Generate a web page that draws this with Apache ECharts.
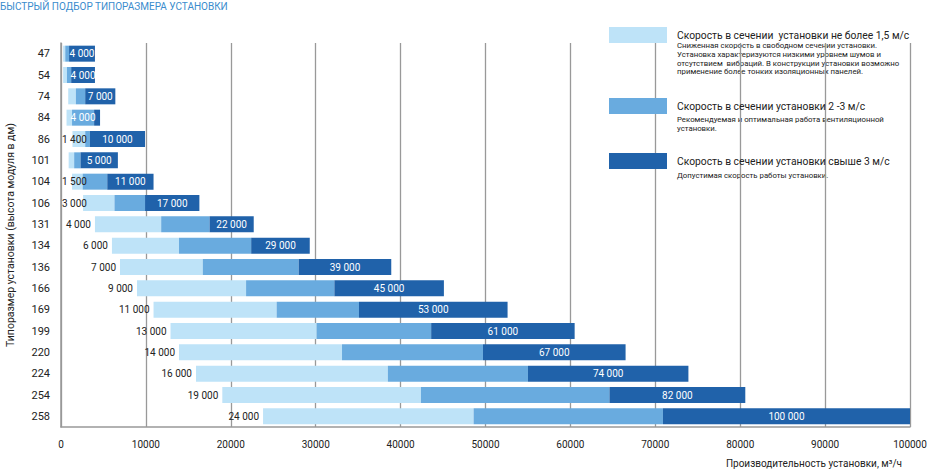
<!DOCTYPE html>
<html><head><meta charset="utf-8">
<script src="https://cdn.jsdelivr.net/npm/echarts@6/dist/echarts.min.js"></script>
<style>html,body{margin:0;padding:0;background:#fff}#c{width:938px;height:470px}</style>
</head><body><div id="c"></div>
<script>
// ---- data ----
const sizes = ['47','54','74','84','86','101','104','106','131','134','136','166','169','199','220','224','254','258'];
const flowStart = [250, 250, 850, 650, 1350, 900, 1300, 2600, 4000, 6000, 6950, 8950, 10900, 12900, 13900, 15900, 19000, 23800];
const lightEnd  = [500, 700, 1750, 1300, 2850, 1550, 2550, 6300, 11800, 13900, 16700, 21800, 25400, 30100, 33100, 38500, 42400, 48600];
const midEnd    = [950, 1200, 2850, 3900, 3400, 2300, 5450, 9900, 17500, 22400, 28000, 32200, 35100, 43600, 49700, 55000, 64600, 70900];
const flowMax   = [4000, 4000, 6400, 4600, 9900, 6700, 10900, 16300, 22700, 29300, 38900, 45100, 52600, 60500, 66500, 73900, 80600, 100000];
const startLabels = ['', '', '', '', '1 400', '', '1 500', '3 000', '4 000', '6 000', '7 000', '9 000', '11 000', '13 000', '14 000', '16 000', '19 000', '24 000'];
const maxLabels = ['4 000', '4 000', '7 000', '4 000', '10 000', '5 000', '11 000', '17 000', '22 000', '29 000', '39 000', '45 000', '53 000', '61 000', '67 000', '74 000', '82 000', '100 000'];
const legendTitles = [
  'Скорость в сечении  установки не более 1,5 м/с',
  'Скорость в сечении установки 2 -3 м/с',
  'Скорость в сечении установки свыше 3 м/с'
];
const legendNotes = [
  ['Сниженная скорость в свободном сечении установки.',
   'Установка характеризуются низкими уровнем шумов и',
   'отсутствием  вибраций. В конструкции установки возможно',
   'применение более тонких изоляционных панелей.'],
  ['Рекомендуемая и оптимальная работа вентиляционной',
   'установки.'],
  ['Допустимая скорость работы установки.']
];
const chartTitle = 'БЫСТРЫЙ ПОДБОР ТИПОРАЗМЕРА УСТАНОВКИ';
const xName = 'Производительность установки, м³/ч';
const yName = 'Типоразмер установки (высота модуля в дм)';

// ---- styles ----
const FONT = 'Roboto';
const colors = ['#bee3f8', '#69abdf', '#2062aa'];
const GRID_LEFT = 61;
const SMALL_DARK = 1000;

const segLight = sizes.map((_, i) => lightEnd[i] - flowStart[i]);
const segMid = sizes.map((_, i) => midEnd[i] - lightEnd[i]);
const segDark = sizes.map((_, i) => flowMax[i] - midEnd[i]);

const darkLabelOnMid = i => segDark[i] < SMALL_DARK;

const chart = echarts.init(document.getElementById('c'), null, {renderer: 'svg'});

const legendTops = [27, 98, 153];
const noteTops = [41.5, 115.5, 171];

const option = {
  animation: false,
  textStyle: {fontFamily: FONT},
  title: {
    text: chartTitle, left: 0, top: 0, padding: [1, 0, 0, 0],
    textStyle: {fontFamily: FONT, fontSize: 10, fontWeight: 'normal', color: '#3a8ccd'}
  },
  legend: legendTitles.map((t, k) => ({
    data: [t], left: 609, top: legendTops[k], orient: 'vertical',
    itemWidth: 58, itemHeight: 16, itemGap: 0, icon: 'rect', padding: 0,
    selectedMode: false,
    textStyle: {fontFamily: FONT, fontSize: 10.3, color: '#222', padding: [0, 0, 0, 5]}
  })),
  graphic: legendNotes.map((lines, k) => ({
    type: 'text', left: 677, top: noteTops[k],
    style: {text: lines.join('\n'), font: '7.8px ' + FONT, fill: '#222', lineHeight: 8.6}
  })),
  grid: {left: GRID_LEFT, right: 28, top: 43, bottom: 43, containLabel: false, outerBoundsMode: 'none'},
  xAxis: {
    type: 'value', min: 0, max: 100000, interval: 10000,
    name: xName, nameLocation: 'end', nameGap: 0,
    nameTextStyle: {fontFamily: FONT, fontSize: 10, color: '#222', align: 'right', verticalAlign: 'top', padding: [31, 8, 0, 0]},
    axisLine: {show: true, lineStyle: {color: '#999', width: 1.5}},
    axisTick: {show: false},
    axisLabel: {fontFamily: FONT, fontSize: 10, color: '#222', margin: 12, formatter: v => String(v)},
    splitLine: {show: true, lineStyle: {color: '#999', width: 1.3}}
  },
  yAxis: {
    type: 'category', data: sizes, inverse: true,
    name: yName, nameLocation: 'middle', nameGap: 45, nameRotate: 90,
    nameTextStyle: {fontFamily: FONT, fontSize: 10.5, color: '#222'},
    axisLine: {show: true, lineStyle: {color: '#999', width: 1.5}},
    axisTick: {show: false},
    axisLabel: {fontFamily: FONT, fontSize: 11, color: '#222', margin: 11},
    splitLine: {show: false}
  },
  series: [
    {
      type: 'bar', stack: 'r', name: 'offset', silent: true, barWidth: 16,
      itemStyle: {color: 'transparent'}, data: flowStart, tooltip: {show: false}
    },
    {
      type: 'bar', stack: 'r', name: legendTitles[0], barWidth: 16,
      itemStyle: {color: colors[0]},
      data: segLight.map((v, i) => ({value: v, label: {show: startLabels[i] !== ''}})),
      label: {
        position: 'left', distance: 4, fontFamily: FONT, fontSize: 10, color: '#222',
        formatter: p => startLabels[p.dataIndex]
      },
      labelLayout: function (p) {
        const w = p.labelRect.width;
        let x = p.rect.x - 4 - w;
        if (x < GRID_LEFT + 1) x = GRID_LEFT + 1;
        return {x: x, y: p.rect.y + p.rect.height / 2, align: 'left', verticalAlign: 'middle'};
      }
    },
    {
      type: 'bar', stack: 'r', name: legendTitles[1], barWidth: 16,
      itemStyle: {color: colors[1]},
      data: segMid.map((v, i) => ({value: v, label: {show: darkLabelOnMid(i)}})),
      label: {
        position: 'inside', fontFamily: FONT, fontSize: 10, color: '#fff',
        formatter: p => maxLabels[p.dataIndex]
      }
    },
    {
      type: 'bar', stack: 'r', name: legendTitles[2], barWidth: 16,
      itemStyle: {color: colors[2]},
      data: segDark.map((v, i) => ({value: v, label: {show: !darkLabelOnMid(i)}})),
      label: {
        position: 'inside', fontFamily: FONT, fontSize: 10, color: '#fff',
        formatter: p => maxLabels[p.dataIndex]
      }
    }
  ]
};
chart.setOption(option);
</script>
</body></html>
